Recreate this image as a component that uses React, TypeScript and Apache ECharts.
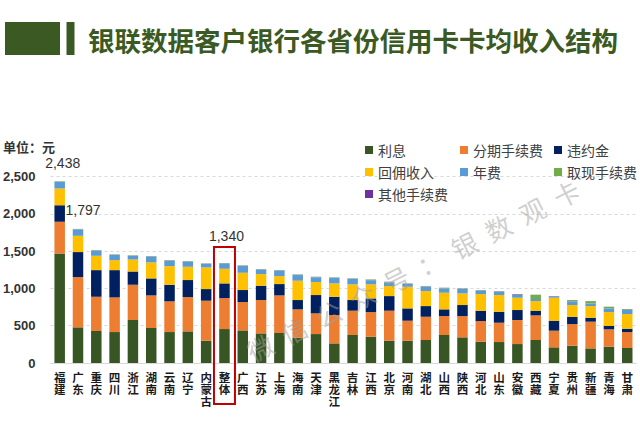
import React, { useEffect, useRef } from 'react';
import * as echarts from 'echarts';

const categories = ['福建','广东','重庆','四川','浙江','湖南','云南','辽宁','内蒙古','整体','广西','江苏','上海','海南','天津','黑龙江','吉林','江西','北京','河南','湖北','山西','陕西','河北','山东','安徽','西藏','宁夏','贵州','新疆','青海','甘肃'];
const interest = [1469, 478, 429, 415, 576, 469, 415, 424, 299, 455, 437, 397, 402, 340, 388, 263, 375, 353, 299, 299, 308, 375, 344, 286, 281, 254, 308, 210, 232, 196, 219, 201];
const installment = [424, 674, 459, 464, 473, 437, 411, 460, 536, 415, 380, 447, 504, 379, 277, 380, 326, 330, 402, 268, 312, 254, 285, 276, 259, 322, 330, 223, 290, 358, 232, 214];
const penalty = [223, 335, 357, 366, 179, 228, 223, 228, 156, 197, 161, 192, 152, 125, 246, 245, 143, 183, 196, 165, 143, 90, 148, 139, 147, 134, 63, 134, 98, 53, 45, 45];
const commission = [223, 218, 192, 134, 160, 214, 250, 178, 290, 196, 232, 156, 107, 259, 174, 179, 210, 188, 134, 290, 201, 223, 156, 223, 224, 165, 129, 308, 157, 156, 187, 196];
const annualFee = [91, 84, 69, 69, 51, 77, 72, 68, 47, 69, 90, 60, 73, 76, 64, 72, 72, 56, 50, 39, 59, 57, 59, 47, 46, 37, 28, 13, 50, 35, 49, 55];
const cashFee = [6, 6, 5, 5, 5, 6, 6, 6, 5, 6, 6, 5, 5, 6, 5, 6, 6, 8, 6, 4, 6, 8, 6, 5, 5, 6, 55, 4, 15, 30, 20, 10];
const otherFee = [2, 2, 2, 2, 2, 2, 2, 2, 2, 2, 2, 2, 2, 2, 2, 2, 2, 2, 2, 2, 2, 2, 2, 2, 2, 6, 2, 5, 2, 2, 2, 2];
const seriesNames = ['利息', '分期手续费', '违约金', '回佣收入', '年费', '取现手续费', '其他手续费'];
const seriesColors = ['#375623', '#ED7D31', '#002060', '#FFC000', '#5B9BD5', '#70AD47', '#7030A0'];
const yTicks = [0, 500, 1000, 1500, 2000, 2500];
const labelledBars: Record<number, number[]> = { 0: [3, -6], 1: [5, -6], 9: [2, -15] };
const watermarkChars = ['微', '信', '公', '众', '号', '：', '银', '数', '观', '卡'];

export default function App() {
  const ref = useRef<HTMLDivElement>(null);
  useEffect(() => {
    const chart = echarts.init(ref.current!, null, { renderer: 'svg' });
    const seriesData = [interest, installment, penalty, commission, annualFee, cashFee, otherFee];
    const totals = categories.map((_, i) => seriesData.reduce((s, arr) => s + arr[i], 0));
    const cjk = '"Noto Sans CJK SC", sans-serif';
    const latin = '"Liberation Sans", Arial, sans-serif';

    const bars = seriesNames.map((name, k) => ({
      name,
      type: 'bar',
      stack: 'total',
      barWidth: 10.5,
      itemStyle: { color: seriesColors[k] },
      data: seriesData[k],
      silent: true,
    }));

    const legendText = { fontSize: 14, color: '#404040', fontFamily: cjk };
    const mkLegend = (left: number, data: string[]) => ({
      orient: 'vertical',
      left,
      top: 138,
      itemWidth: 8,
      itemHeight: 8,
      itemGap: 8,
      icon: 'rect',
      data,
      textStyle: legendText,
      selectedMode: false,
    });

    chart.setOption({
      animation: false,
      backgroundColor: '#ffffff',
      grid: { left: 48.6, right: 3.6, top: 176.5, bottom: 72 },
      legend: [
        mkLegend(360, ['利息', '回佣收入', '其他手续费']),
        mkLegend(455, ['分期手续费', '年费']),
        mkLegend(549, ['违约金', '取现手续费']),
      ],
      xAxis: {
        type: 'category',
        data: categories,
        axisTick: { show: false },
        axisLine: { lineStyle: { color: '#d9d9d9' } },
        axisLabel: {
          interval: 0,
          margin: 8,
          fontSize: 11.5,
          lineHeight: 12,
          fontWeight: 'bold',
          color: '#1a1a1a',
          fontFamily: cjk,
          formatter: (v: string) => v.split('').join('\n'),
        },
      },
      yAxis: {
        type: 'value',
        min: yTicks[0],
        max: yTicks[yTicks.length - 1],
        interval: 500,
        axisLine: { show: false },
        axisTick: { show: false },
        splitLine: { lineStyle: { color: '#d9d9d9', type: [3, 3] } },
        axisLabel: {
          margin: 15,
          fontSize: 13,
          fontWeight: 'bold',
          color: '#333333',
          fontFamily: latin,
          formatter: (v: number) => v.toLocaleString('en-US'),
        },
      },
      series: [
        ...bars,
        {
          name: '合计',
          type: 'line',
          data: totals.map((v, i) =>
            labelledBars[i] ? { value: v, label: { show: true, offset: labelledBars[i] } } : v
          ),
          symbol: 'circle',
          symbolSize: 1,
          itemStyle: { color: 'rgba(0,0,0,0)' },
          lineStyle: { width: 0, opacity: 0 },
          silent: true,
          z: 10,
          label: {
            show: false,
            position: 'top',
            fontSize: 14,
            color: '#333333',
            fontFamily: latin,
            formatter: (p: any) => Number(p.value).toLocaleString('en-US'),
          },
        },
      ],
    });

    const top = chart.convertToPixel({ seriesIndex: 0 }, ['整体', 1555]) as number[];
    const base = chart.convertToPixel({ seriesIndex: 0 }, ['整体', 0]) as number[];

    const wmStart = [260, 347];
    const wmEnd = [566, 193];
    const n = watermarkChars.length - 1;
    const watermark = watermarkChars.map((ch, i) => ({
      type: 'text',
      x: wmStart[0] + ((wmEnd[0] - wmStart[0]) * i) / n,
      y: wmStart[1] + ((wmEnd[1] - wmStart[1]) * i) / n,
      rotation: 0.466,
      z: 50,
      style: {
        text: ch,
        fill: 'rgba(160,160,160,0.5)',
        font: `26px ${cjk}`,
        textAlign: 'center',
        textVerticalAlign: 'middle',
      },
    }));

    chart.setOption({
      graphic: [
        { type: 'rect', shape: { x: 5, y: 22, width: 55, height: 33 }, style: { fill: '#3B5A23' } },
        { type: 'rect', shape: { x: 66.5, y: 22, width: 8, height: 33 }, style: { fill: '#3B5A23' } },
        {
          type: 'text', x: 88, y: 39,
          style: { text: '银联数据客户银行各省份信用卡卡均收入结构', fill: '#3B5A23', font: `bold 26.5px ${cjk}`, textVerticalAlign: 'middle' },
        },
        {
          type: 'text', x: 3, y: 146,
          style: { text: '单位：元', fill: '#333333', font: `bold 13px ${cjk}`, textVerticalAlign: 'middle' },
        },
        ...watermark,
        {
          type: 'rect', z: 60,
          shape: { x: top[0] - 10.5, y: top[1], width: 21, height: base[1] + 41 - top[1] },
          style: { fill: 'none', stroke: '#C00000', lineWidth: 2 },
        },
      ],
    });

    return () => chart.dispose();
  }, []);
  return <div ref={ref} style={{ position: 'absolute', left: 0, top: 0, width: 640, height: 435 }} />;
}
